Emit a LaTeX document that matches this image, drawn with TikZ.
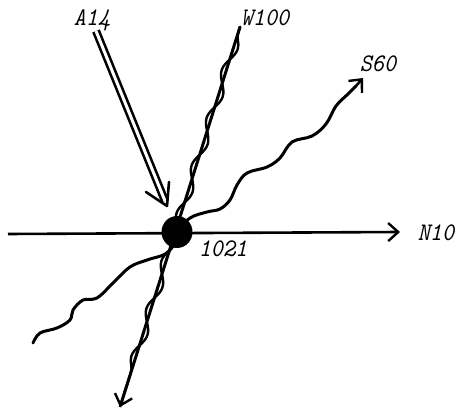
\documentclass[tikz,border=0pt]{standalone}
\usetikzlibrary{arrows.meta,decorations.pathmorphing,shapes.geometric}
\begin{document}
\begin{tikzpicture}[x=1pt,y=-1pt,
  lbl/.style={font=\fontsize{23}{25}\selectfont\ttfamily\itshape, inner sep=0pt, yscale=1.1},
  wire/.style={line width=3pt, line cap=round, line join=round},
  barb/.style={-{Straight Barb[length=10pt,width=18pt,line width=2.4pt]}}]
\useasboundingbox (0,0) rectangle (467,412);
% labels
\node[lbl] (a14) at (92,20) {A14};
\node[lbl] (w100) at (265,18) {W100};
\node[lbl] (s60) at (378,64) {S60};
\node[lbl] (n10) at (436,233) {N10};
\node[lbl] (l1021) at (223,249) {1021};
% endpoints
\coordinate (hubc) at (177,232);
\coordinate (west) at (8,234);
\coordinate (east) at (400,232);
\coordinate (wtop) at (240,27);
\coordinate (wbot) at (120,407);
\coordinate (atop) at (96,31);
\coordinate (aend) at (165,201);
\coordinate (atip) at (167,206);
\coordinate (ab1) at (146,192);
\coordinate (ab2) at (169,182);
% N10 horizontal
\draw[line width=2.6pt, barb] (west) -- (east);
% W100 twisted line
\draw[wire, barb] (wtop) -- (wbot);
\draw[line width=2.4pt, decorate, decoration={snake, amplitude=4.5pt, segment length=50pt, pre length=6pt, post length=14pt}] (wtop) -- (wbot);
% A14 double line
\draw[line width=2.6pt, double=white, double distance=3pt] (atop) -- (aend);
\draw[line width=2.6pt, line cap=round, line join=round] (ab1) -- (atip) -- (ab2);
% S60 wavy line
\draw[wire] plot[smooth, tension=0.6] coordinates {(177,232) (190,218) (207,212) (220,209) (230,200) (237,185) (247,173) (267,167) (280,158) (292,142) (312,136) (326,124) (336,106) (348,94) (356,86)};
\coordinate (s60a) at (356,86);
\coordinate (s60tip) at (363,78);
\draw[line width=2.6pt, barb] (s60a) -- (s60tip);
% lower-left wavy tail
\draw[wire] plot[smooth, tension=0.6] coordinates {(177,238) (167,253) (147,260) (130,267) (113,283) (97,298) (83,300) (73,310) (70,320) (57,328) (40,333) (33,343)};
% hub
\node[fill=black, ellipse, minimum width=31pt, minimum height=32pt, inner sep=0pt] (hub) at (hubc) {};
\end{tikzpicture}
\end{document}
